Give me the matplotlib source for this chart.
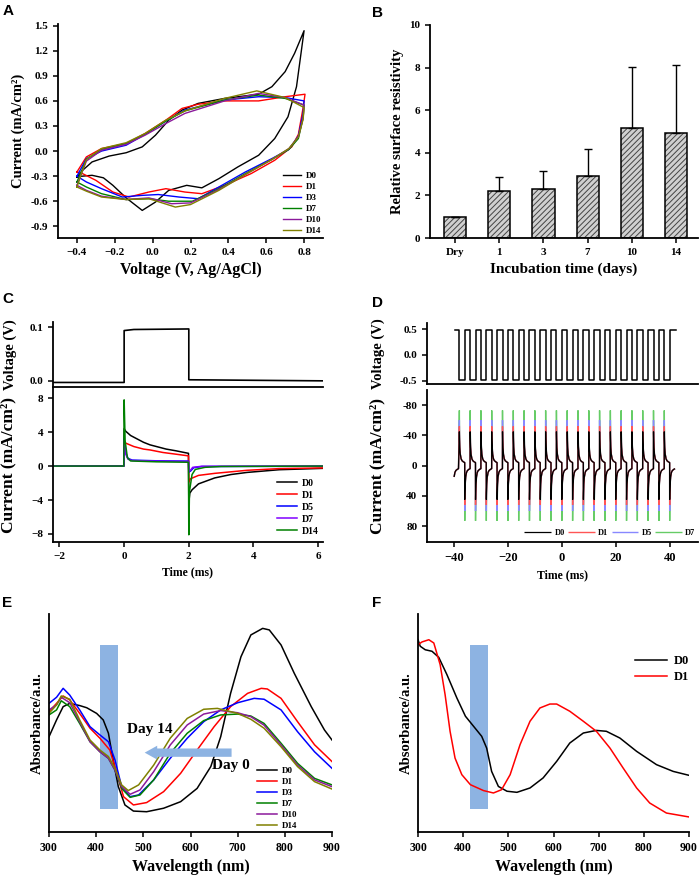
import numpy as np
import matplotlib.pyplot as plt
from matplotlib.patches import Rectangle

plt.rcParams['font.family'] = ['Liberation Serif', 'DejaVu Serif']
plt.rcParams['font.weight'] = 'bold'
plt.rcParams['axes.labelweight'] = 'bold'
plt.rcParams['axes.linewidth'] = 1.3
plt.rcParams['xtick.major.width'] = 1.1
plt.rcParams['ytick.major.width'] = 1.1
plt.rcParams['xtick.major.size'] = 3.5
plt.rcParams['ytick.major.size'] = 3.5
plt.rcParams['hatch.linewidth'] = 0.7
plt.rcParams['path.simplify'] = False

# ---------------- A: cyclic voltammetry ----------------
cv_labels = ['D0', 'D1', 'D3', 'D7', 'D10', 'D14']
cv_colors = ['black', 'red', 'blue', 'green', '#8b1a9b', '#808000']
cv_v_d0 = [-0.40, -0.37, -0.32, -0.23, -0.14, -0.055, 0.015, 0.085, 0.155, 0.24, 0.38, 0.56, 0.63, 0.70,
           0.75, 0.80, 0.76, 0.715, 0.645, 0.56, 0.45, 0.35, 0.26, 0.18, 0.085, 0.015, -0.055, -0.14,
           -0.21, -0.26, -0.32, -0.37, -0.40]
cv_i_d0 = [-0.31, -0.23, -0.13, -0.06, -0.02, 0.05, 0.19, 0.37, 0.49, 0.57, 0.63, 0.68, 0.77, 0.95,
           1.17, 1.44, 0.77, 0.41, 0.15, -0.05, -0.19, -0.33, -0.44, -0.41, -0.47, -0.61, -0.71, -0.56,
           -0.41, -0.32, -0.29, -0.30, -0.31]
cv_v_d1 = [-0.40, -0.35, -0.27, -0.14, -0.04, 0.07, 0.155, 0.24, 0.38, 0.56, 0.70, 0.805, 0.795, 0.77,
           0.735, 0.645, 0.52, 0.38, 0.26, 0.17, 0.07, -0.02, -0.125, -0.21, -0.30, -0.37, -0.40]
cv_i_d1 = [-0.25, -0.07, 0.03, 0.09, 0.21, 0.37, 0.51, 0.56, 0.60, 0.60, 0.65, 0.68, 0.52, 0.20,
           0.05, -0.11, -0.27, -0.41, -0.51, -0.49, -0.45, -0.49, -0.55, -0.49, -0.35, -0.27, -0.25]
cv_v_d3 = [-0.40, -0.35, -0.27, -0.14, -0.04, 0.07, 0.17, 0.38, 0.56, 0.70, 0.80, 0.795, 0.77, 0.72,
           0.63, 0.49, 0.35, 0.24, 0.14, 0.03, -0.055, -0.16, -0.27, -0.35, -0.40]
cv_i_d3 = [-0.30, -0.09, 0.00, 0.07, 0.20, 0.36, 0.49, 0.61, 0.65, 0.64, 0.60, 0.45, 0.18, 0.02,
           -0.09, -0.25, -0.43, -0.57, -0.55, -0.52, -0.53, -0.55, -0.45, -0.37, -0.30]
cv_v_d7 = [-0.40, -0.35, -0.27, -0.14, -0.04, 0.07, 0.17, 0.38, 0.56, 0.70, 0.80, 0.795, 0.77, 0.72,
           0.63, 0.49, 0.35, 0.21, 0.085, -0.02, -0.14, -0.27, -0.35, -0.40]
cv_i_d7 = [-0.37, -0.10, 0.02, 0.09, 0.20, 0.36, 0.48, 0.61, 0.67, 0.63, 0.55, 0.40, 0.15, 0.02,
           -0.10, -0.27, -0.45, -0.60, -0.60, -0.57, -0.58, -0.51, -0.43, -0.37]
cv_v_d10 = [-0.40, -0.35, -0.27, -0.14, -0.04, 0.07, 0.17, 0.38, 0.56, 0.70, 0.80, 0.795, 0.77, 0.72,
            0.63, 0.49, 0.35, 0.20, 0.10, -0.02, -0.14, -0.27, -0.35, -0.40]
cv_i_d10 = [-0.41, -0.12, 0.01, 0.08, 0.19, 0.33, 0.45, 0.60, 0.69, 0.64, 0.55, 0.40, 0.17, 0.03,
            -0.10, -0.28, -0.46, -0.62, -0.63, -0.56, -0.58, -0.54, -0.47, -0.41]
cv_v_d14 = [-0.40, -0.35, -0.27, -0.14, -0.04, 0.07, 0.17, 0.38, 0.55, 0.70, 0.80, 0.795, 0.77, 0.72,
            0.63, 0.49, 0.35, 0.20, 0.12, -0.02, -0.14, -0.27, -0.35, -0.40]
cv_i_d14 = [-0.43, -0.10, 0.03, 0.10, 0.21, 0.37, 0.48, 0.63, 0.72, 0.64, 0.52, 0.38, 0.17, 0.03,
            -0.10, -0.28, -0.47, -0.64, -0.67, -0.57, -0.58, -0.55, -0.48, -0.43]

# ---------------- B: surface resistivity ----------------
res_days = ['Dry', '1', '3', '7', '10', '14']
res_mean = [1.0, 2.22, 2.30, 2.92, 5.15, 4.95]
res_err = [0.0, 0.66, 0.83, 1.28, 2.88, 3.18]

# ---------------- C: single pulse ----------------
c_volt_t = [-2.2, 0.0, 0.0, 0.3, 2.0, 2.0, 6.15]
c_volt_v = [-0.003, -0.003, 0.094, 0.096, 0.097, 0.002, 0.0]
c_labels = ['D0', 'D1', 'D5', 'D7', 'D14']
c_colors = ['black', 'red', 'blue', '#8000ff', 'green']
c_t_d0 = [-2.2, -0.01, 0.0, 0.05, 0.2, 0.4, 0.6, 0.8, 1.0, 1.3, 1.6, 1.99, 2.0, 2.03, 2.1, 2.3, 2.8,
          3.3, 3.8, 4.8, 6.15]
c_i_d0 = [0.0, 0.0, 4.4, 4.1, 3.6, 3.2, 2.8, 2.5, 2.3, 2.0, 1.8, 1.5, -4.3, -3.2, -2.8, -2.1, -1.4,
          -1.0, -0.75, -0.43, -0.27]
c_t_d1 = [-2.2, -0.01, 0.0, 0.05, 0.3, 0.6, 0.8, 1.2, 1.6, 1.99, 2.0, 2.05, 2.3, 2.8, 3.8, 4.8, 6.15]
c_i_d1 = [0.0, 0.0, 2.8, 2.7, 2.3, 2.0, 1.9, 1.6, 1.4, 1.2, -1.9, -1.5, -1.1, -0.86, -0.5, -0.3, -0.22]
c_t_d5 = [-2.2, -0.01, 0.0, 0.05, 0.12, 0.25, 1.0, 1.99, 2.0, 2.05, 2.15, 2.4, 6.15]
c_i_d5 = [0.0, 0.0, 3.2, 1.6, 0.9, 0.7, 0.62, 0.58, -0.7, -0.6, -0.2, -0.05, -0.02]
c_t_d7 = [-2.2, -0.01, 0.0, 0.05, 0.12, 0.25, 1.0, 1.99, 2.0, 2.05, 2.12, 2.4, 6.15]
c_i_d7 = [0.0, 0.0, 3.0, 1.4, 0.8, 0.65, 0.58, 0.55, -0.6, -0.5, -0.15, -0.03, 0.0]
c_t_d14 = [-2.2, -0.01, 0.0, 0.03, 0.1, 0.2, 1.0, 1.99, 2.0, 2.02, 2.1, 2.2, 2.5, 3.0, 6.15]
c_i_d14 = [0.0, 0.0, 7.8, 3.0, 1.0, 0.6, 0.5, 0.45, -8.1, -3.0, -1.0, -0.4, -0.15, -0.05, 0.0]

# ---------------- D: pulse train ----------------
d_fall_edges = [-38, -34, -30, -26, -22, -18, -14, -10, -6, -2, 2, 6, 10, 14, 18, 22, 26, 30, 34, 38]
d_rise_edges = [-40.3, -36, -32, -28, -24, -20, -16, -12, -8, -4, 0, 4, 8, 12, 16, 20, 24, 28, 32, 36, 40]
d_volt_high = 0.48
d_volt_low = -0.48
d_t_start, d_t_end = -39.6, 42.3
d_labels = ['D0', 'D1', 'D5', 'D7']
d_colors = ['black', '#ff5555', '#8888ff', '#66cc66']
d_half_offsets = [0.0, 0.04, 0.15, 0.35, 0.65, 1.0, 1.5, 1.98]
d_shape_d0 = [45, 36, 24, 15, 9, 6.5, 5, 4]
d_shape_d1 = [52, 40, 25, 15, 9, 6.5, 5, 4]
d_shape_d5 = [60, 45, 26, 15, 9, 6.5, 5, 4]
d_shape_d7 = [73, 50, 27, 15, 9, 6.5, 5, 4]

# ---------------- E: absorbance vs days ----------------
e_labels = ['D0', 'D1', 'D3', 'D7', 'D10', 'D14']
e_colors = ['black', 'red', 'blue', 'green', '#8b1a9b', '#808000']
e_wl_d0 = [300, 316, 330, 344, 365, 380, 401, 415, 426, 436, 447, 461, 479, 507, 543, 579, 614, 643,
           664, 685, 707, 728, 753, 767, 792, 820, 856, 884, 900]
e_ab_d0 = [0.437, 0.514, 0.575, 0.59, 0.58, 0.57, 0.544, 0.514, 0.453, 0.33, 0.208, 0.124, 0.096, 0.093,
           0.109, 0.139, 0.2, 0.3, 0.437, 0.636, 0.804, 0.904, 0.934, 0.927, 0.858, 0.728, 0.575, 0.468,
           0.422]
e_wl_d1 = [300, 316, 330, 344, 365, 387, 408, 429, 444, 458, 479, 507, 543, 579, 614, 650, 685, 721,
           750, 763, 792, 827, 863, 900]
e_ab_d1 = [0.552, 0.59, 0.624, 0.606, 0.544, 0.476, 0.43, 0.376, 0.269, 0.162, 0.124, 0.135, 0.185,
           0.269, 0.376, 0.483, 0.575, 0.636, 0.659, 0.656, 0.613, 0.506, 0.4, 0.323]
e_wl_d3 = [300, 316, 330, 344, 365, 387, 408, 426, 440, 454, 472, 490, 522, 557, 593, 628, 664, 700,
           735, 756, 792, 827, 863, 900]
e_ab_d3 = [0.59, 0.618, 0.659, 0.628, 0.56, 0.483, 0.445, 0.414, 0.33, 0.208, 0.162, 0.17, 0.239,
           0.338, 0.43, 0.506, 0.56, 0.593, 0.613, 0.609, 0.56, 0.46, 0.368, 0.292]
e_wl_d7 = [300, 316, 326, 344, 365, 387, 408, 426, 440, 454, 472, 493, 522, 557, 593, 628, 664, 700,
           728, 756, 792, 827, 863, 900]
e_ab_d7 = [0.537, 0.56, 0.602, 0.575, 0.498, 0.414, 0.368, 0.338, 0.284, 0.2, 0.159, 0.17, 0.239,
           0.361, 0.453, 0.511, 0.537, 0.541, 0.532, 0.498, 0.407, 0.315, 0.246, 0.216]
e_wl_d10 = [300, 316, 326, 344, 365, 387, 408, 426, 440, 454, 472, 493, 522, 557, 593, 628, 664, 700,
            728, 756, 792, 827, 863, 900]
e_ab_d10 = [0.56, 0.583, 0.618, 0.593, 0.506, 0.414, 0.368, 0.338, 0.284, 0.208, 0.173, 0.193, 0.277,
            0.399, 0.491, 0.541, 0.557, 0.547, 0.529, 0.49, 0.399, 0.307, 0.239, 0.208]
e_wl_d14 = [300, 316, 326, 344, 365, 387, 408, 426, 440, 454, 468, 490, 522, 557, 593, 628, 657, 700,
            728, 756, 792, 827, 863, 900]
e_ab_d14 = [0.544, 0.583, 0.624, 0.609, 0.514, 0.422, 0.376, 0.346, 0.292, 0.216, 0.19, 0.216, 0.307,
            0.43, 0.521, 0.563, 0.567, 0.544, 0.517, 0.476, 0.391, 0.3, 0.231, 0.197]

# ---------------- F: absorbance D0 / D1 ----------------
f_wl_d0 = [300, 305, 316, 331, 346, 364, 386, 405, 423, 441, 452, 463, 478, 497, 519, 548, 577, 607,
           636, 666, 695, 717, 747, 784, 828, 865, 900]
f_ab_d0 = [0.882, 0.852, 0.836, 0.829, 0.801, 0.722, 0.615, 0.531, 0.485, 0.439, 0.385, 0.278, 0.209,
           0.187, 0.182, 0.202, 0.248, 0.324, 0.408, 0.454, 0.466, 0.462, 0.431, 0.37, 0.309, 0.278, 0.26]
f_wl_d1 = [300, 309, 324, 335, 349, 360, 371, 382, 397, 416, 445, 467, 485, 504, 526, 548, 570, 592,
           607, 636, 666, 695, 725, 754, 784, 813, 850, 900]
f_ab_d1 = [0.859, 0.872, 0.882, 0.867, 0.768, 0.63, 0.462, 0.339, 0.263, 0.217, 0.19, 0.179, 0.194,
           0.263, 0.401, 0.508, 0.569, 0.587, 0.587, 0.554, 0.508, 0.462, 0.385, 0.294, 0.202, 0.133,
           0.087, 0.069]

band_lo_e, band_hi_e = 408, 446
band_lo_f, band_hi_f = 415, 455
band_color = '#8db3e2'

fig = plt.figure(figsize=(7, 8.76), dpi=100)


def fx(px):
    return px / 700


def fy(px):
    return 1 - px / 876


def add_ax(left, top, right, bottom):
    ax = fig.add_axes([fx(left), fy(bottom), fx(right - left), (bottom - top) / 876])
    ax.spines['top'].set_visible(False)
    ax.spines['right'].set_visible(False)
    ax.tick_params(labelsize=8, direction='out')
    return ax


def letter(x, y, s):
    fig.text(fx(x), fy(y), s, family='Liberation Sans', weight='bold', fontsize=11, va='top', ha='left')


# ---- A ----
axA = add_ax(58, 24, 323, 238)
cv_v = [cv_v_d0, cv_v_d1, cv_v_d3, cv_v_d7, cv_v_d10, cv_v_d14]
cv_i = [cv_i_d0, cv_i_d1, cv_i_d3, cv_i_d7, cv_i_d10, cv_i_d14]
for v, i, lab, col in zip(cv_v, cv_i, cv_labels, cv_colors):
    axA.plot(v, i, color=col, lw=1.0, label=lab)
axA.set_xlim(-0.5, 0.9)
axA.set_ylim(-1.04, 1.52)
axA.set_xticks([-0.4, -0.2, 0.0, 0.2, 0.4, 0.6, 0.8])
axA.set_xticklabels(['\u22120.4', '\u22120.2', '0.0', '0.2', '0.4', '0.6', '0.8'])
ayt = [-0.9, -0.6, -0.3, 0.0, 0.3, 0.6, 0.9, 1.2, 1.5]
axA.set_yticks(ayt)
axA.set_yticklabels(['%.1f' % t for t in ayt])
axA.set_xlabel('Voltage (V, Ag/AgCl)', fontsize=11.5)
axA.set_ylabel('Current (mA/cm\u00b2)', fontsize=10.5)
axA.legend(loc='upper left', bbox_to_anchor=(0.85, 0.31), frameon=False, fontsize=6.5,
           handlelength=2.0, labelspacing=0.3, borderpad=0, borderaxespad=0, handletextpad=0.5)
letter(3, 4, 'A')

# ---- B ----
axB = add_ax(430, 25, 698, 238)
xb = np.arange(len(res_days))
axB.bar(xb, res_mean, width=0.5, color='#d0d0d0', edgecolor='#444444', hatch='//////', lw=0)
axB.bar(xb, res_mean, width=0.5, color='none', edgecolor='black', lw=1.1)
axB.errorbar(xb, res_mean, yerr=[np.zeros(len(res_err)), res_err], fmt='none', ecolor='black',
             elinewidth=1.0, capsize=3, capthick=1.0)
axB.set_xlim(-0.57, 5.5)
axB.set_ylim(0, 10)
axB.set_xticks(xb)
axB.set_xticklabels(res_days)
axB.set_yticks([0, 2, 4, 6, 8, 10])
axB.set_xlabel('Incubation time (days)', fontsize=11)
axB.set_ylabel('Relative surface resistivity', fontsize=10.5)
letter(372, 6, 'B')

# ---- C ----
axC1 = add_ax(53, 322, 323, 387)
axC1.plot(c_volt_t, c_volt_v, color='black', lw=1.2)
axC1.set_xlim(-2.2, 6.15)
axC1.set_ylim(-0.0115, 0.11)
axC1.set_xticks([])
axC1.set_yticks([0.0, 0.1])
axC1.set_yticklabels(['0.0', '0.1'])
axC1.set_ylabel('Voltage (V)', fontsize=10.5)

axC2 = add_ax(53, 388, 323, 542)
c_t = [c_t_d0, c_t_d1, c_t_d5, c_t_d7, c_t_d14]
c_i = [c_i_d0, c_i_d1, c_i_d5, c_i_d7, c_i_d14]
for t, i, lab, col in zip(c_t, c_i, c_labels, c_colors):
    axC2.plot(t, i, color=col, lw=1.1, label=lab)
axC2.set_xlim(-2.2, 6.15)
axC2.set_ylim(-8.95, 9.2)
axC2.set_xticks([-2, 0, 2, 4, 6])
axC2.set_xticklabels(['\u22122', '0', '2', '4', '6'])
axC2.set_yticks([-8, -4, 0, 4, 8])
axC2.set_yticklabels(['\u22128', '\u22124', '0', '4', '8'])
axC2.set_xlabel('Time (ms)', fontsize=8.5)
axC2.set_ylabel('Current (mA/cm\u00b2)', fontsize=12.5)
axC2.legend(loc='upper left', bbox_to_anchor=(0.83, 0.41), frameon=False, fontsize=7,
            handlelength=2.0, labelspacing=0.3, borderpad=0, borderaxespad=0, handletextpad=0.5)
for ax in (axC1, axC2):
    ax.yaxis.set_label_coords(-0.135, 0.5)
letter(2, 292, 'C')

# ---- D ----
axD1 = add_ax(427, 323, 698, 384)
vt = [d_t_start]
vv = [d_volt_high]
edges = sorted([(e, d_volt_low) for e in d_fall_edges] + [(e, d_volt_high) for e in d_rise_edges if e > d_t_start])
level = d_volt_high
for e, new in edges:
    vt += [e, e]
    vv += [level, new]
    level = new
vt.append(d_t_end)
vv.append(level)
axD1.plot(vt, vv, color='black', lw=1.1)
axD1.set_xlim(-50, 50.5)
axD1.set_ylim(-0.566, 0.62)
axD1.set_xticks([])
axD1.set_yticks([-0.5, 0.0, 0.5])
axD1.set_yticklabels(['-0.5', '0.0', '0.5'])
axD1.set_ylabel('Voltage (V)', fontsize=10.5)

axD2 = add_ax(427, 390, 698, 542)
d_shapes = [d_shape_d0, d_shape_d1, d_shape_d5, d_shape_d7]
pulses = sorted([(e, -1) for e in d_fall_edges] + [(e, 1) for e in d_rise_edges])
order = [3, 2, 1, 0]
lines = {}
for k in order:
    tt, ii = [], []
    for e, sgn in pulses:
        for j, (off, val) in enumerate(zip(d_half_offsets, d_shapes[k])):
            t = e + off
            if -40 <= t <= 42:
                tt.append(t)
                ii.append(sgn * val)
                if j == 0:
                    # break the path at the spike tip so it is not stroked as a reversal
                    tt += [np.nan, t]
                    ii += [np.nan, sgn * val]
    lw = 0.9 if k == 0 else 1.0
    lines[k], = axD2.plot(tt, ii, color=d_colors[k], lw=lw, label=d_labels[k], solid_capstyle='butt')
axD2.set_xlim(-50, 50.5)
axD2.set_ylim(101, -100)
axD2.set_xticks([-40, -20, 0, 20, 40])
axD2.set_xticklabels(['\u221240', '\u221220', '0', '20', '40'], fontsize=9)
axD2.set_yticks([-80, -40, 0, 40, 80])
axD2.set_yticklabels(['-80', '-40', '0', '40', '80'])
axD2.set_xlabel('Time (ms)', fontsize=8.5)
axD2.set_ylabel('Current (mA/cm\u00b2)', fontsize=12.5)
axD2.legend([lines[k] for k in range(4)], d_labels, loc='center right', bbox_to_anchor=(0.99, 0.06),
            ncol=4, frameon=False, fontsize=6, handlelength=3.2, columnspacing=0.4,
            handletextpad=0.4, borderpad=0, borderaxespad=0)
for ax in (axD1, axD2):
    ax.yaxis.set_label_coords(-0.155, 0.5)
letter(372, 296, 'D')

# ---- E ----
axE = add_ax(49, 614, 332, 832)
axE.add_patch(Rectangle((band_lo_e, 0.105), band_hi_e - band_lo_e, 0.753, color=band_color, lw=0, zorder=1))
e_wl = [e_wl_d0, e_wl_d1, e_wl_d3, e_wl_d7, e_wl_d10, e_wl_d14]
e_ab = [e_ab_d0, e_ab_d1, e_ab_d3, e_ab_d7, e_ab_d10, e_ab_d14]
for w, a, lab, col in zip(e_wl, e_ab, e_labels, e_colors):
    axE.plot(w, a, color=col, lw=1.1, label=lab, zorder=2)
axE.annotate('', xy=(497, 0.364), xytext=(693, 0.364),
             arrowprops=dict(arrowstyle='simple,head_length=0.9,head_width=1.0,tail_width=0.6',
                             color=band_color, lw=0))
axE.text(465, 0.468, 'Day 14', fontsize=11, va='center', ha='left')
axE.text(646, 0.304, 'Day 0', fontsize=11, va='center', ha='left')
axE.set_xlim(300, 900)
axE.set_ylim(0, 1)
axE.set_yticks([])
axE.set_xticks([300, 400, 500, 600, 700, 800, 900])
axE.tick_params(labelsize=8.5)
axE.set_xlabel('Wavelength (nm)', fontsize=11.5)
axE.set_ylabel('Absorbance/a.u.', fontsize=10.5)
axE.legend(loc='upper left', bbox_to_anchor=(0.735, 0.30), frameon=False, fontsize=6.5,
           handlelength=2.2, labelspacing=0.3, borderpad=0, borderaxespad=0, handletextpad=0.5)
letter(2, 596, 'E')

# ---- F ----
axF = add_ax(418, 614, 689, 832)
axF.add_patch(Rectangle((band_lo_f, 0.107), band_hi_f - band_lo_f, 0.749, color=band_color, lw=0, zorder=1))
axF.plot(f_wl_d0, f_ab_d0, color='black', lw=1.1, label='D0', zorder=2)
axF.plot(f_wl_d1, f_ab_d1, color='red', lw=1.1, label='D1', zorder=2)
axF.set_xlim(300, 900)
axF.set_ylim(0, 1)
axF.set_yticks([])
axF.set_xticks([300, 400, 500, 600, 700, 800, 900])
axF.tick_params(labelsize=8.5)
axF.set_xlabel('Wavelength (nm)', fontsize=11.5)
axF.set_ylabel('Absorbance/a.u.', fontsize=10.5)
axF.legend(loc='upper left', bbox_to_anchor=(0.80, 0.81), frameon=False, fontsize=9,
           handlelength=2.6, labelspacing=0.3, borderpad=0, borderaxespad=0, handletextpad=0.5)
letter(372, 596, 'F')

fig.savefig('out.png', dpi=100)
